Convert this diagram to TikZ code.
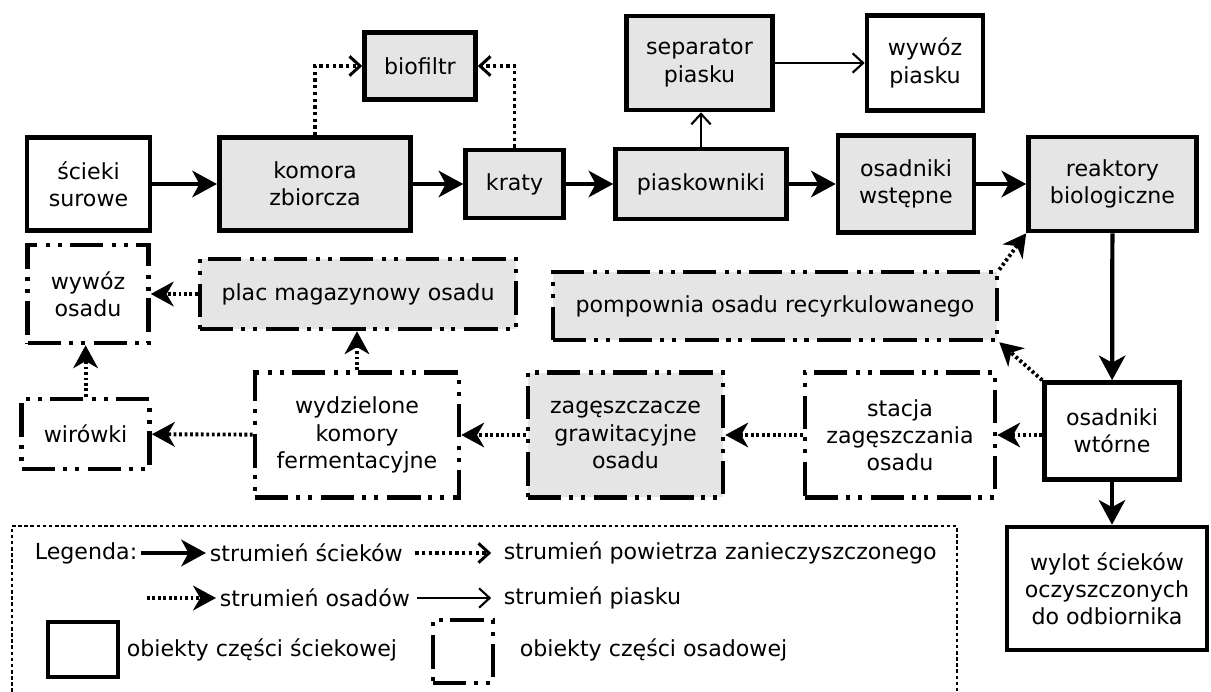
\documentclass[tikz,border=0pt]{standalone}
\usepackage{fontspec}
\setmainfont{DejaVu Sans}
\usetikzlibrary{arrows.meta}

\tikzset{
  blok/.style={draw, line width=2.6pt, align=center, inner sep=2pt,
    font=\fontsize{12.6}{15.5}\selectfont},
  szary/.style={fill=gray!20},
  osadowy/.style={blok, dash pattern=on 19pt off 4.5pt on 2.3pt off 4.5pt on 2.3pt off 5pt},
  opis/.style={anchor=west, inner sep=2pt, font=\fontsize{12.6}{15.5}\selectfont},
  sciek/.style={line width=2.4pt, -{Stealth[length=14pt,width=15pt,inset=4pt]}},
  powietrze/.style={line width=1.9pt, dash pattern=on 1.9pt off 1.9pt,
    -{Straight Barb[length=6pt,width=11pt,line width=1.7pt]}},
  osad/.style={line width=2.2pt, dash pattern=on 1.6pt off 1.5pt,
    -{Stealth[length=13pt,width=14pt,inset=4pt]}},
  piasek/.style={line width=1.2pt, -{Straight Barb[length=6pt,width=11pt]}},
  ramka/.style={line width=0.6pt, dash pattern=on 2pt off 1.5pt}
}

\begin{document}
\begin{tikzpicture}[x=0.02cm, y=-0.02cm]
\useasboundingbox (0,0) rectangle (1211,692);

% ciag sciekowy
\node[blok, minimum width=2.46cm, minimum height=1.86cm] (scieki) at (88.5,184) {ścieki\\surowe};
\node[blok, szary, minimum width=3.83cm, minimum height=1.86cm] (komora) at (315,184) {komora\\zbiorcza};
\node[blok, szary, minimum width=2.22cm, minimum height=1.34cm] (biofiltr) at (420,66) {biofiltr};
\node[blok, szary, minimum width=1.96cm, minimum height=1.36cm] (kraty) at (514.6,184) {kraty};
\node[blok, szary, minimum width=3.42cm, minimum height=1.40cm] (piaskowniki) at (701,184) {piaskowniki};
\node[blok, szary, minimum width=2.92cm, minimum height=1.88cm] (separator) at (699.5,63) {separator\\piasku};
\node[blok, minimum width=2.32cm, minimum height=1.90cm] (wywozp) at (925,63) {wywóz\\piasku};
\node[blok, szary, minimum width=2.72cm, minimum height=1.94cm] (wstepne) at (906,184) {osadniki\\wstępne};
\node[blok, szary, minimum width=3.36cm, minimum height=1.88cm] (reaktory) at (1112.5,184) {reaktory\\biologiczne};
\node[blok, minimum width=2.70cm, minimum height=1.94cm] (wtorne) at (1112,431) {osadniki\\wtórne};
\node[blok, minimum width=4.00cm, minimum height=2.46cm] (wylot) at (1107,588.5) {wylot ścieków\\oczyszczonych\\do odbiornika};

% ciag osadowy
\node[osadowy, szary, minimum width=8.88cm, minimum height=1.36cm] (pompownia) at (775,306) {pompownia osadu recyrkulowanego};
\node[osadowy, minimum width=3.80cm, minimum height=2.50cm] (stacja) at (900,435) {stacja\\zagęszczania\\osadu};
\node[osadowy, szary, minimum width=3.90cm, minimum height=2.50cm] (zageszczacze) at (625.5,435) {zagęszczacze\\grawitacyjne\\osadu};
\node[osadowy, minimum width=4.08cm, minimum height=2.50cm] (komory) at (357,435) {wydzielone\\komory\\fermentacyjne};
\node[osadowy, szary, minimum width=6.32cm, minimum height=1.40cm] (plac) at (358,294) {plac magazynowy osadu};
\node[osadowy, minimum width=2.42cm, minimum height=1.96cm] (wywozo) at (88,294) {wywóz\\osadu};
\node[osadowy, minimum width=2.56cm, minimum height=1.40cm] (wirowki) at (85.6,434) {wirówki};

% strumien sciekow
\draw[sciek] (scieki) -- (komora);
\draw[sciek] (komora) -- (kraty);
\draw[sciek] (kraty) -- (piaskowniki);
\draw[sciek] (piaskowniki) -- (wstepne);
\draw[sciek] (wstepne) -- (reaktory);
\draw[sciek] (reaktory) -- (wtorne);
\draw[sciek] (wtorne.south) -- (wtorne.south |- wylot.north);

% powietrze i piasek
\draw[powietrze] (komora.north) |- (biofiltr.west);
\draw[powietrze] (kraty.north) |- (biofiltr.east);
\draw[piasek] (piaskowniki.north) -- (piaskowniki.north |- separator.south);
\draw[piasek] (separator) -- (wywozp);

% strumien osadow
\draw[osad] (pompownia.north east) -- (reaktory.south west);
\draw[osad] (wtorne.north west) -- (pompownia.south east);
\draw[osad] (wtorne.west |- stacja) -- (stacja.east);
\draw[osad] (stacja) -- (zageszczacze);
\draw[osad] (zageszczacze) -- (komory);
\draw[osad] (komory) -- (wirowki);
\draw[osad] (komory.north) -- (komory.north |- plac.south);
\draw[osad] (plac) -- (wywozo);
\draw[osad] (wirowki.north) -- (wirowki.north |- wywozo.south);

% legenda
\draw[ramka] (12,692) -- (12,526) -- (957,526) -- (957,692);
\node[opis] (legenda) at (31,553) {Legenda:};
\node[opis] (lscieki) at (206,553) {strumień ścieków};
\node[opis] (lpowietrze) at (500,553) {strumień powietrza zanieczyszczonego};
\coordinate (losad) at (147,598);
\node[opis] (losady) at (216,598) {strumień osadów};
\node[opis] (lpiasek) at (500,598) {strumień piasku};
\node[blok, minimum width=1.40cm, minimum height=1.10cm] (lblok) at (83,649.5) {};
\node[opis] (lsciekowe) at (123,650) {obiekty części ściekowej};
\node[osadowy, minimum width=1.20cm, minimum height=1.26cm] (lblokos) at (463,651.5) {};
\node[opis] (losadowe) at (516,650) {obiekty części osadowej};

\draw[sciek] (legenda) -- (lscieki);
\draw[powietrze, shorten <=5pt, shorten >=5pt] (lscieki) -- (lpowietrze);
\draw[osad] (losad) -- (losady);
\draw[piasek, shorten <=2pt, shorten >=5pt] (losady) -- (lpiasek);

\end{tikzpicture}
\end{document}
